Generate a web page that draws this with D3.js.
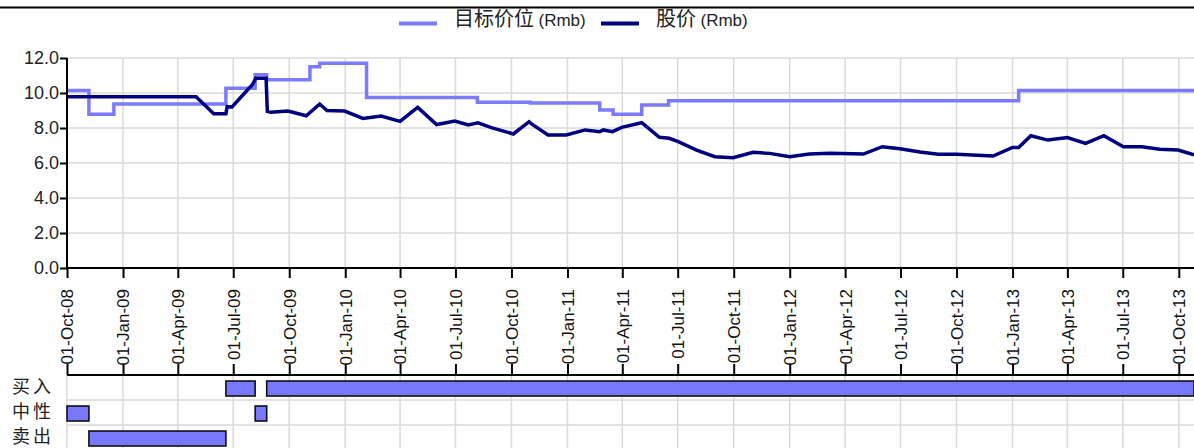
<!DOCTYPE html>
<html>
<head>
<meta charset="utf-8">
<script src="https://cdn.jsdelivr.net/npm/d3@7"></script>
<style>
  html, body { margin: 0; padding: 0; background: #fff; }
  svg { display: block; }
</style>
</head>
<body>
<svg id="chart" width="1194" height="448"></svg>
<script>
// ---- data ----
const priceDates = ["2008-10-01","2009-05-01","2009-05-30","2009-06-19","2009-06-21","2009-06-29","2009-08-02","2009-08-07","2009-08-24","2009-08-26","2009-09-01","2009-09-29","2009-10-29","2009-11-20","2009-12-02","2009-12-31","2010-01-30","2010-03-01","2010-04-01","2010-04-30","2010-05-31","2010-06-30","2010-07-22","2010-08-07","2010-08-29","2010-10-04","2010-10-30","2010-11-03","2010-11-30","2010-12-30","2011-01-30","2011-02-23","2011-03-01","2011-03-16","2011-03-31","2011-05-03","2011-06-01","2011-06-17","2011-07-02","2011-08-01","2011-08-31","2011-09-30","2011-11-02","2011-11-29","2012-01-01","2012-02-02","2012-03-07","2012-05-01","2012-06-01","2012-06-30","2012-08-02","2012-09-01","2012-10-01","2012-11-30","2013-01-01","2013-01-11","2013-01-31","2013-02-28","2013-04-01","2013-05-01","2013-05-31","2013-07-02","2013-08-01","2013-08-31","2013-09-30","2013-10-26"];
const priceValues = [9.79,9.79,8.82,8.82,9.22,9.20,10.5,10.85,10.85,8.95,8.90,8.97,8.70,9.37,9.00,8.97,8.55,8.68,8.38,9.18,8.20,8.40,8.17,8.30,8.02,7.66,8.36,8.23,7.60,7.60,7.89,7.79,7.89,7.79,8.04,8.30,7.47,7.41,7.22,6.74,6.36,6.30,6.61,6.55,6.36,6.51,6.55,6.51,6.93,6.82,6.63,6.50,6.50,6.40,6.89,6.89,7.56,7.31,7.45,7.12,7.56,6.93,6.93,6.78,6.74,6.46];

const targetDates = ["2008-10-01","2008-11-06","2008-12-17","2009-06-19","2009-08-06","2009-08-25","2009-11-04","2009-11-20","2010-02-05","2010-08-06","2010-11-01","2011-02-23","2011-03-17","2011-05-03","2011-06-16","2013-01-11","2013-10-26"];
const targetValues = [10.15,8.78,9.37,10.27,11.05,10.76,11.5,11.7,9.75,9.47,9.43,9.03,8.78,9.31,9.56,10.15,10.15];

const ratingCategories = ["买入","中性","卖出"];
const ratingStart = ["2008-10-01","2008-11-06","2009-06-19","2009-08-06","2009-08-25"];
const ratingEnd   = ["2008-11-06","2009-06-19","2009-08-06","2009-08-25","2013-10-26"];
const ratingValue = ["中性","卖出","买入","中性","买入"];

const yTicks = [0,2,4,6,8,10,12];
const legendLabels = ["目标价位","股价"];
const legendUnit = "(Rmb)";

// ---- layout ----
const svg = d3.select("#chart");
const W = 1194;
const parse = d3.timeParse("%Y-%m-%d");
const x = d3.scaleTime().domain([parse("2008-10-01"), parse("2013-10-26")]).range([67, 1194]);
const y = d3.scaleLinear().domain([0, 12]).range([268, 58]);
const yr = d3.scaleBand().domain(ratingCategories).range([375, 450]);

const latin = "'Liberation Sans Narrow', 'Liberation Sans', Arial, sans-serif";
const cjk = "'Noto Sans CJK SC', 'Noto Sans', sans-serif";
const gridColor = "#dadada";
const lightColor = "#7b7bff";
const darkColor = "#00007f";

const xTicks = x.ticks(d3.timeMonth.every(3)).filter(d => d <= parse("2013-10-26"));

// top rule
svg.append("line").attr("x1", 0).attr("x2", W).attr("y1", 7.5).attr("y2", 7.5)
  .attr("stroke", "#000").attr("stroke-width", 2);

// grid (main)
const grid = svg.append("g");
grid.selectAll(".hg").data(yTicks).enter().append("line")
  .attr("x1", 67).attr("x2", W).attr("y1", d => y(d)).attr("y2", d => y(d))
  .attr("stroke", gridColor).attr("stroke-width", 1.5);
grid.selectAll(".vg").data(xTicks).enter().append("line")
  .attr("x1", d => x(d)).attr("x2", d => x(d)).attr("y1", 58).attr("y2", 268)
  .attr("stroke", gridColor).attr("stroke-width", 1.5);

// grid (rating panel)
grid.selectAll(".vg2").data(xTicks).enter().append("line")
  .attr("x1", d => x(d)).attr("x2", d => x(d)).attr("y1", 375).attr("y2", 448)
  .attr("stroke", gridColor).attr("stroke-width", 1.5);
grid.selectAll(".hg2").data(ratingCategories.slice(1)).enter().append("line")
  .attr("x1", 67).attr("x2", W).attr("y1", d => yr(d)).attr("y2", d => yr(d))
  .attr("stroke", gridColor).attr("stroke-width", 1.5);

// lines
const targetData = targetDates.map((d, i) => ({date: parse(d), value: targetValues[i]}));
const priceData = priceDates.map((d, i) => ({date: parse(d), value: priceValues[i]}));

svg.append("path").datum(targetData)
  .attr("fill", "none").attr("stroke", lightColor).attr("stroke-width", 3.5)
  .attr("d", d3.line().curve(d3.curveStepAfter).x(d => x(d.date)).y(d => y(d.value)));
svg.append("path").datum(priceData)
  .attr("fill", "none").attr("stroke", darkColor).attr("stroke-width", 3.5)
  .attr("stroke-linejoin", "miter")
  .attr("d", d3.line().x(d => x(d.date)).y(d => y(d.value)));

// y axis
const yAxis = svg.append("g").attr("transform", "translate(67,0)")
  .call(d3.axisLeft(y).tickValues(yTicks).tickFormat(d3.format(".1f")).tickSize(7).tickPadding(1));
yAxis.select(".domain").attr("stroke", "#000").attr("stroke-width", 2).attr("d", "M0,58V268");
yAxis.selectAll(".tick line").attr("stroke", "#000").attr("stroke-width", 2);
yAxis.selectAll(".tick text").attr("font-family", latin).attr("font-size", 18).attr("fill", "#222");

// x axis (bottom of price chart)
const fmt = d3.timeFormat("%d-%b-%y");
const xAxis = svg.append("g").attr("transform", "translate(0,268)")
  .call(d3.axisBottom(x).tickValues(xTicks).tickFormat(fmt).tickSize(10));
xAxis.select(".domain").attr("stroke", "#000").attr("stroke-width", 2).attr("d", `M67,0H${W}`);
xAxis.selectAll(".tick line").attr("stroke", "#000").attr("stroke-width", 2);
xAxis.selectAll(".tick text")
  .attr("font-family", latin).attr("font-size", 17).attr("fill", "#111")
  .attr("text-anchor", "end")
  .attr("transform", "rotate(-90)")
  .attr("x", -21).attr("y", 0).attr("dy", "0.35em");

// x axis (top of rating panel)
const xAxis2 = svg.append("g").attr("transform", "translate(0,375)")
  .call(d3.axisTop(x).tickValues(xTicks).tickFormat("").tickSize(11));
xAxis2.select(".domain").attr("stroke", "#000").attr("stroke-width", 2).attr("d", `M67,0H${W}`);
xAxis2.selectAll(".tick line").attr("stroke", "#000").attr("stroke-width", 2);

// rating bars
const bars = ratingValue.map((r, i) => ({r, s: parse(ratingStart[i]), e: parse(ratingEnd[i])}));
svg.append("g").selectAll("rect").data(bars).enter().append("rect")
  .attr("x", d => x(d.s)).attr("width", d => x(d.e) - x(d.s))
  .attr("y", d => yr(d.r) + 6).attr("height", 15)
  .attr("fill", "#7878ff").attr("stroke", "#111").attr("stroke-width", 1.6);

// rating labels
svg.append("g").selectAll("text").data(ratingCategories).enter().append("text")
  .attr("x", 54).attr("y", d => yr(d) + yr.bandwidth() / 2 - 0.5).attr("dy", "0.35em")
  .attr("text-anchor", "end").attr("font-family", cjk).attr("font-size", 18)
  .attr("letter-spacing", 3).attr("fill", "#222")
  .text(d => d);

// legend
const legendX = [399, 601];
const legendColors = [lightColor, darkColor];
const lg = svg.append("g");
legendLabels.forEach((lab, i) => {
  lg.append("line").attr("x1", legendX[i]).attr("x2", legendX[i] + 38).attr("y1", 23.5).attr("y2", 23.5)
    .attr("stroke", legendColors[i]).attr("stroke-width", 4);
  const t = lg.append("text").attr("x", legendX[i] + 55).attr("y", 26).attr("fill", "#222");
  t.append("tspan").attr("font-family", cjk).attr("font-size", 20).text(lab + " ");
  t.append("tspan").attr("font-family", latin).attr("font-size", 17).text(legendUnit);
});
</script>
</body>
</html>
